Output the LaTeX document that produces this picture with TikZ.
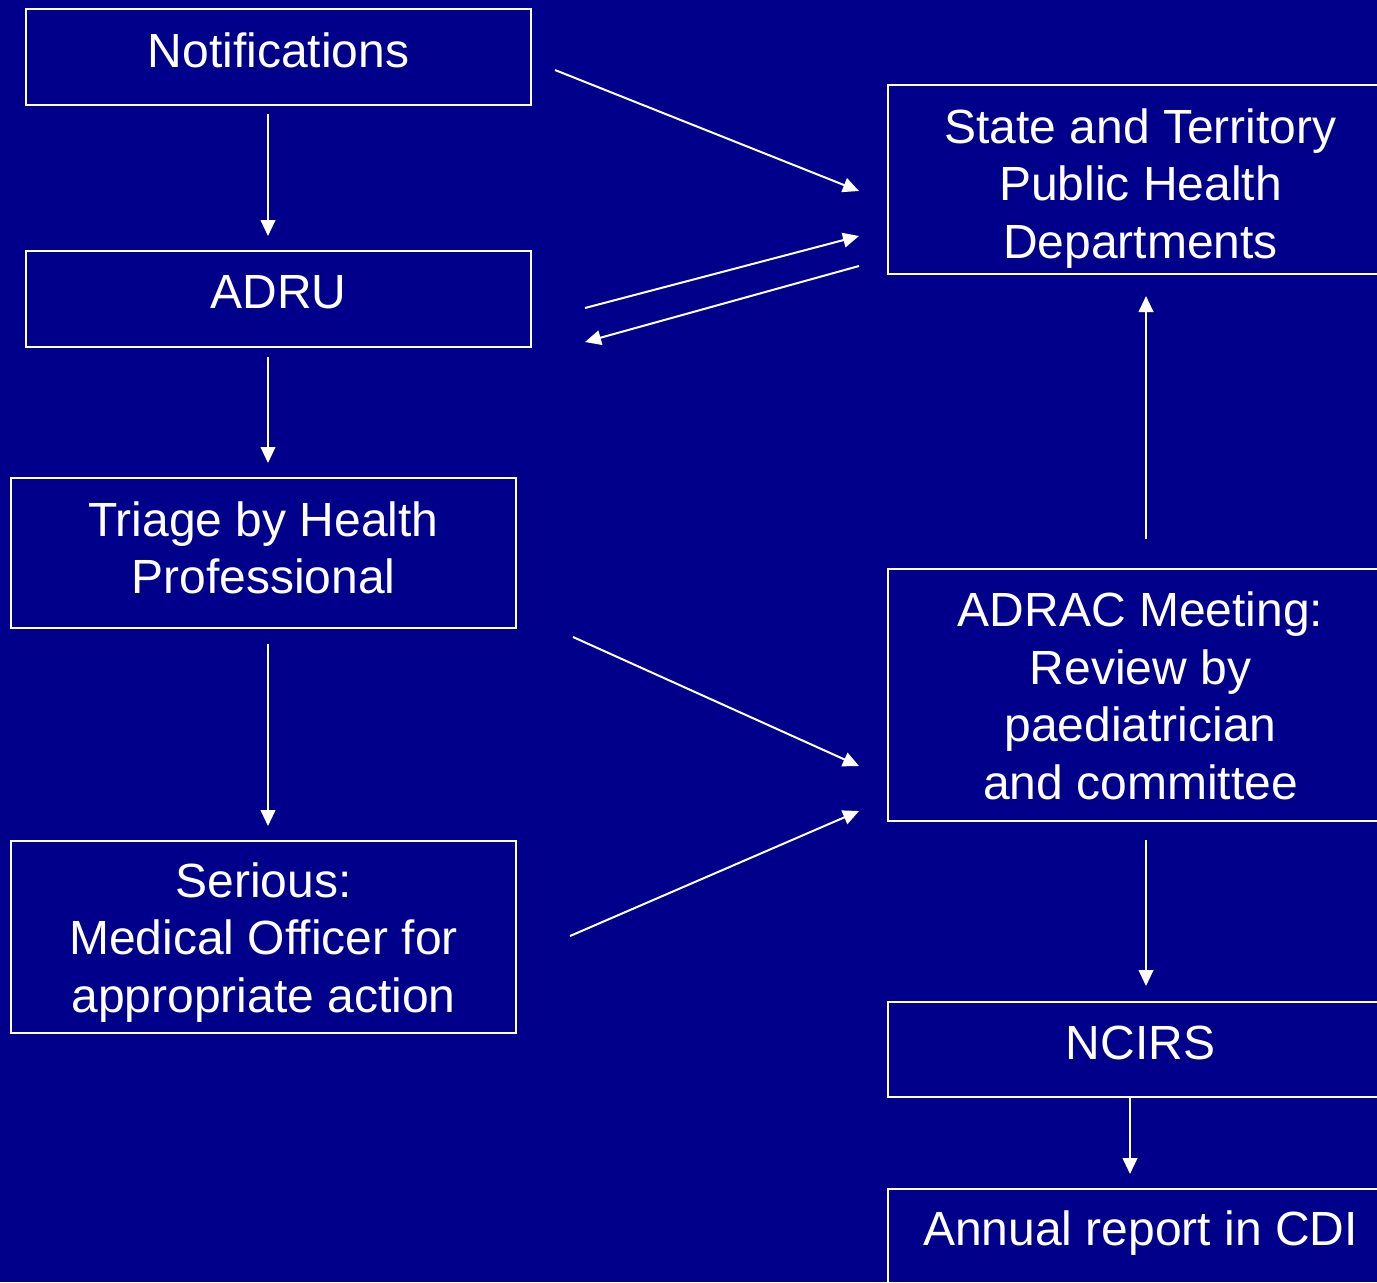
\documentclass[tikz,border=0pt]{standalone}
\usepackage{fontspec}
\setmainfont{Liberation Sans}
\usetikzlibrary{arrows.meta,fit}
\definecolor{navybg}{RGB}{0,0,139}
\tikzset{
  box/.style={draw=white, line width=1.5pt, inner sep=0pt, outer sep=0pt},
  boxtext/.style={text=white, anchor=base, inner sep=0pt, font=\fontsize{36pt}{43.3pt}\selectfont},
  flow/.style={draw=white, line width=1.5pt, -{Triangle[length=12pt,width=11pt]}}
}
\newcommand{\lines}[1]{\begin{tabular}[t]{@{}c@{}}#1\end{tabular}}
\begin{document}
\begin{tikzpicture}[x=0.75pt,y=-0.75pt]
\useasboundingbox (0,0) rectangle (1377,1282);
\clip (0,0) rectangle (1377,1282);
\fill[navybg] (0,0) rectangle (1377,1282);

% boxes
\node[box, fit={(26,9)(531,105)}] (notif) {};
\node[box, fit={(26,251)(531,347)}] (adru) {};
\node[box, fit={(11,478)(516,628)}] (triage) {};
\node[box, fit={(11,841)(516,1033)}] (serious) {};
\node[box, fit={(888,85)(1393,274)}] (state) {};
\node[box, fit={(888,569)(1393,821)}] (adrac) {};
\node[box, fit={(888,1002)(1393,1097)}] (ncirs) {};
\node[box, fit={(888,1189)(1393,1285)}] (annual) {};

% texts
\node[boxtext] (tnotif) at (278.5,67) {\lines{Notifications}};
\node[boxtext] (tadru) at (278.5,308) {\lines{ADRU}};
\node[boxtext] (ttriage) at (263.5,536) {\lines{Triage by Health\\Professional}};
\node[boxtext] (tserious) at (263.5,897) {\lines{Serious:\\Medical Officer for\\appropriate action}};
\node[boxtext] (tstate) at (1140.5,143) {\lines{State and Territory\\Public Health\\Departments}};
\node[boxtext] (tadrac) at (1140.5,626.5) {\lines{ADRAC Meeting:\\Review by\\paediatrician\\and committee}};
\node[boxtext] (tncirs) at (1140.5,1059) {\lines{NCIRS}};
\node[boxtext] (tannual) at (1140.5,1245) {\lines{Annual report in CDI}};

% arrow end points
\coordinate (a1s) at (268,114);  \coordinate (a1e) at (268,236);
\coordinate (a2s) at (268,357);  \coordinate (a2e) at (268,463);
\coordinate (a3s) at (268,644);  \coordinate (a3e) at (268,826);
\coordinate (a4s) at (555,70);   \coordinate (a4e) at (859,191);
\coordinate (a5s) at (585,308);  \coordinate (a5e) at (859,236);
\coordinate (a6s) at (859,266);  \coordinate (a6e) at (585,342);
\coordinate (a7s) at (573,637);  \coordinate (a7e) at (859,766);
\coordinate (a8s) at (570,936);  \coordinate (a8e) at (859,811);
\coordinate (a9s) at (1146,539); \coordinate (a9e) at (1146,296);
\coordinate (a10s) at (1146,840); \coordinate (a10e) at (1146,986);
\coordinate (a11s) at (1130,1097); \coordinate (a11e) at (1130,1174);

\draw[flow] (a1s) -- (a1e);
\draw[flow] (a2s) -- (a2e);
\draw[flow] (a3s) -- (a3e);
\draw[flow] (a4s) -- (a4e);
\draw[flow] (a5s) -- (a5e);
\draw[flow] (a6s) -- (a6e);
\draw[flow] (a7s) -- (a7e);
\draw[flow] (a8s) -- (a8e);
\draw[flow] (a9s) -- (a9e);
\draw[flow] (a10s) -- (a10e);
\draw[flow] (a11s) -- (a11e);
\end{tikzpicture}
\end{document}
